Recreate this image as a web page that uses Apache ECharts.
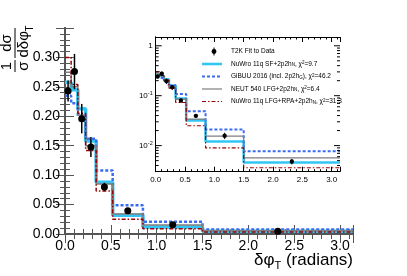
<!DOCTYPE html>
<html><head><meta charset="utf-8">
<script src="https://cdn.jsdelivr.net/npm/echarts@6/dist/echarts.min.js"></script>
<style>html,body{margin:0;padding:0;background:#fff}#c{width:407px;height:276px}</style>
</head><body><div id="c"></div>
<script>
// ---- data ----
const binEdges = [0, 0.067, 0.14, 0.225, 0.34, 0.52, 0.85, 1.5, Math.PI];
const dataValues = [0.243, 0.276, 0.196, 0.148, 0.080, 0.0395, 0.0158, 0.0048];
const dataErrors = [0.018, 0.030, 0.025, 0.017, 0.007, 0.003, 0.0023, 0.0006];
const nuwroSF  = [0.258, 0.245, 0.213, 0.158, 0.088, 0.032, 0.0121, 0.0046];
const gibuu    = [0.235, 0.222, 0.200, 0.162, 0.108, 0.049, 0.0210, 0.0077];
const neut     = [0.275, 0.250, 0.202, 0.150, 0.085, 0.034, 0.0155, 0.0057];
const nuwroRPA = [0.300, 0.254, 0.205, 0.142, 0.073, 0.025, 0.0090, 0.0036];
const insetDecades = [1, 0.1, 0.01];
const insetDecadeLabels = ['1', '10{sup|-1}', '10{sup|-2}'];
const legendLabels = [
  'T2K Fit to Data',
  'NuWro 11q SF+2p2h{sub|N}, χ{sup|2}=9.7',
  'GiBUU 2016 (incl. 2p2h{sub|G}), χ{sup|2}=46.2',
  'NEUT 540 LFG+2p2h{sub|N}, χ{sup|2}=6.4',
  'NuWro 11q LFG+RPA+2p2h{sub|N}, χ{sup|2}=31.3'
];

// ---- helpers ----
function steps(vals){
  const d = vals.map((v,i)=>[binEdges[i], v]);
  d.push([binEdges[binEdges.length-1], vals[vals.length-1]]);
  return d;
}
const points = dataValues.map((v,i)=>[(binEdges[i]+binEdges[i+1])/2, v, dataErrors[i]]);
const logMinor = [];
for (let d=-3; d<=0; d++) for (let m=2; m<=9; m++){ const v=m*Math.pow(10,d); if(v>0.003 && v<1.5) logMinor.push([0, v]); }
const logMajor = insetDecades.map((v,i)=>[0, v, i]);

const styles = [
  {color:'#33c6f4', width:3.5, type:'solid', iw:2.6},
  {color:'#3b6cf0', width:2.5, type:[3,2], iw:2},
  {color:'#7f7f7f', width:1.5, type:'solid', iw:1.2},
  {color:'#990000', width:1.5, type:[4,2,1.5,2], iw:1.2}
];
const models = [nuwroSF, gibuu, neut, nuwroRPA];
const FF = 'Liberation Sans';

function errRender(r, lw){
  return function(params, api){
    const x=api.value(0), y=api.value(1), e=api.value(2);
    const p=api.coord([x,y]), t=api.coord([x,y+e]), b=api.coord([x,y-e]);
    return {type:'group', children:[
      {type:'line', shape:{x1:p[0],y1:t[1],x2:p[0],y2:b[1]}, style:{stroke:'#000', lineWidth:lw}},
      {type:'circle', shape:{cx:p[0],cy:p[1],r:r}, style:{fill:'#000'}}
    ]};
  };
}
function tickRender(len, withLabel){
  return function(params, api){
    const v=api.value(1); const p=api.coord([0,v]); const q=api.coord([Math.PI,v]);
    const ch = [
      {type:'line', shape:{x1:p[0],y1:p[1],x2:p[0]+len,y2:p[1]}, style:{stroke:'#000', lineWidth:1}},
      {type:'line', shape:{x1:q[0],y1:q[1],x2:q[0]-len,y2:q[1]}, style:{stroke:'#000', lineWidth:1}}
    ];
    if (withLabel) {
      ch.push({type:'text', x:p[0]-3, y:p[1], style:{text:insetDecadeLabels[api.value(2)], fontFamily:FF, fontSize:8, lineHeight:10, fill:'#000',
        align:'right', verticalAlign:'middle', textAlign:'right', textVerticalAlign:'middle',
        rich:{sup:{fontSize:5.5, lineHeight:5, verticalAlign:'top', fontFamily:FF}}}});
    }
    return {type:'group', children:ch};
  };
}

const axisCol = '#555';
const mainX = {min:0, max:Math.PI, interval:0.5, splitLine:{show:false}};
function xLab(v){ return Math.abs(v*2-Math.round(v*2))<1e-6 ? v.toFixed(1) : ''; }

const series = [];
models.forEach((m,i)=>{
  series.push({type:'line', xAxisIndex:0, yAxisIndex:0, data:steps(m), step:'end', symbol:'none',
    lineStyle:{color:styles[i].color, width:styles[i].width, type:styles[i].type}, z:2+i});
  series.push({type:'line', xAxisIndex:2, yAxisIndex:2, data:steps(m), step:'end', symbol:'none',
    lineStyle:{color:styles[i].color, width:styles[i].iw, type:styles[i].type}, z:12+i});
});
series.push({type:'custom', xAxisIndex:0, yAxisIndex:0, data:points, renderItem:errRender(3.5,1.5), z:8, clip:false});
series.push({type:'custom', xAxisIndex:2, yAxisIndex:2, data:points, renderItem:errRender(2.2,1), z:18, clip:false});
series.push({type:'custom', xAxisIndex:2, yAxisIndex:2, data:logMinor, z:19, clip:false, renderItem:tickRender(3,false)});
series.push({type:'custom', xAxisIndex:2, yAxisIndex:2, data:logMajor, z:19, clip:false, renderItem:tickRender(6,true)});

// legend graphics
const legY = [51.5, 64, 76.5, 89, 101.5];
const legGraphics = [];
legGraphics.push({type:'line', shape:{x1:214,y1:legY[0]-4,x2:214,y2:legY[0]+4}, style:{stroke:'#000', lineWidth:1}, z:30});
legGraphics.push({type:'circle', shape:{cx:214,cy:legY[0],r:2.4}, style:{fill:'#000'}, z:30});
styles.forEach((s,i)=>{
  legGraphics.push({type:'line', shape:{x1:202,y1:legY[i+1],x2:222,y2:legY[i+1]},
    style:{stroke:s.color, lineWidth:s.iw, lineDash: s.type==='solid'?null:s.type}, z:30});
});
legendLabels.forEach((t,i)=>{
  legGraphics.push({type:'text', x:231, y:legY[i], style:{text:t, fontFamily:FF, fontSize:6.5, fill:'#000',
    align:'left', verticalAlign:'middle', textAlign:'left', textVerticalAlign:'middle',
    rich:{sub:{fontSize:4.5, lineHeight:5, verticalAlign:'bottom', fontFamily:FF},
          sup:{fontSize:4.5, lineHeight:5, verticalAlign:'top', fontFamily:FF}}}, z:30});
});

function txt(x,y,t,fs,al,va){ return {type:'text', x:x, y:y, style:{text:t, fontFamily:FF, fontSize:fs, fill:'#000',
  align:al, verticalAlign:va, textAlign:al, textVerticalAlign:va}}; }

const yTitle = {type:'group', x:15, y:72, rotation:Math.PI/2, children:[
  txt(6,-1,'1',15,'center','bottom'),
  {type:'line', shape:{x1:0,y1:0,x2:12,y2:0}, style:{stroke:'#000', lineWidth:1}},
  txt(6,1,'σ',15,'center','top'),
  txt(29,-1,'dσ',15,'center','bottom'),
  {type:'line', shape:{x1:14,y1:0,x2:44,y2:0}, style:{stroke:'#000', lineWidth:1}},
  txt(14.5,1,'dδφ',15,'left','top'),
  txt(40.5,10,'T',10,'left','top')
]};
const xTitle = {type:'text', x:353, y:260, style:{text:'{a|δφ}{s|T}{a| (radians)}', fontFamily:FF, fill:'#000',
  align:'right', verticalAlign:'middle', textAlign:'right', textVerticalAlign:'middle',
  rich:{a:{fontSize:17, lineHeight:22, fontFamily:FF}, s:{fontSize:11, lineHeight:11, verticalAlign:'bottom', fontFamily:FF}}}};

const chart = echarts.init(document.getElementById('c'), null, {renderer:'canvas'});
chart.setOption({
  animation:false,
  backgroundColor:'#fff',
  grid:[
    {left:65, top:28, right:54, bottom:42, show:false},
    {left:155.7, top:37, right:67, bottom:104.3, show:true, backgroundColor:'#fff', borderWidth:0, z:10}
  ],
  xAxis:[
    Object.assign({gridIndex:0, type:'value', position:'bottom',
      axisLine:{lineStyle:{color:axisCol, width:2}},
      axisTick:{inside:true, length:9, lineStyle:{color:axisCol, width:1}},
      minorTick:{show:true, splitNumber:5, length:5, lineStyle:{color:axisCol, width:1}},
      axisLabel:{fontFamily:FF, fontSize:14, color:'#000', margin:5, formatter:xLab, showMaxLabel:false}}, mainX),
    Object.assign({gridIndex:0, type:'value', position:'top',
      axisLine:{lineStyle:{color:axisCol, width:2}},
      axisTick:{inside:true, length:9, lineStyle:{color:axisCol, width:1}},
      minorTick:{show:true, splitNumber:5, length:5, lineStyle:{color:axisCol, width:1}},
      axisLabel:{show:false}}, mainX),
    Object.assign({gridIndex:1, type:'value', position:'bottom', z:20,
      axisLine:{lineStyle:{color:'#000', width:1}},
      axisTick:{inside:true, length:5, lineStyle:{color:'#000', width:1}},
      minorTick:{show:true, splitNumber:5, length:2.5, lineStyle:{color:'#000', width:1}},
      axisLabel:{fontFamily:FF, fontSize:8, color:'#000', margin:4, formatter:xLab, showMaxLabel:false}}, mainX),
    Object.assign({gridIndex:1, type:'value', position:'top', z:20,
      axisLine:{lineStyle:{color:'#000', width:1}},
      axisTick:{inside:true, length:5, lineStyle:{color:'#000', width:1}},
      minorTick:{show:true, splitNumber:5, length:2.5, lineStyle:{color:'#000', width:1}},
      axisLabel:{show:false}}, mainX)
  ],
  yAxis:[
    {gridIndex:0, type:'value', position:'left', min:0, max:0.35, interval:0.05, splitLine:{show:false},
      axisLine:{show:true, lineStyle:{color:axisCol, width:2}},
      axisTick:{show:true, inside:true, length:9, lineStyle:{color:axisCol, width:1}},
      minorTick:{show:true, splitNumber:5, length:5, lineStyle:{color:axisCol, width:1}},
      axisLabel:{fontFamily:FF, fontSize:14, color:'#000', margin:5, showMaxLabel:false,
        formatter:v=> v>0.34 ? '' : v.toFixed(2)}},
    {gridIndex:0, type:'value', position:'right', min:0, max:0.35, interval:0.05, splitLine:{show:false},
      axisLine:{show:true, lineStyle:{color:axisCol, width:2}},
      axisTick:{show:true, inside:true, length:9, lineStyle:{color:axisCol, width:1}},
      minorTick:{show:true, splitNumber:5, length:5, lineStyle:{color:axisCol, width:1}},
      axisLabel:{show:false}},
    {gridIndex:1, type:'log', logBase:10, position:'left', min:0.003, max:1.5, splitLine:{show:false}, z:20,
      axisLine:{show:true, lineStyle:{color:'#000', width:1}},
      axisTick:{show:false}, axisLabel:{show:false}},
    {gridIndex:1, type:'log', logBase:10, position:'right', min:0.003, max:1.5, splitLine:{show:false}, z:20,
      axisLine:{show:true, lineStyle:{color:'#000', width:1}},
      axisTick:{show:false}, axisLabel:{show:false}}
  ],
  series: series,
  graphic:[yTitle, xTitle].concat(legGraphics)
});
</script></body></html>
